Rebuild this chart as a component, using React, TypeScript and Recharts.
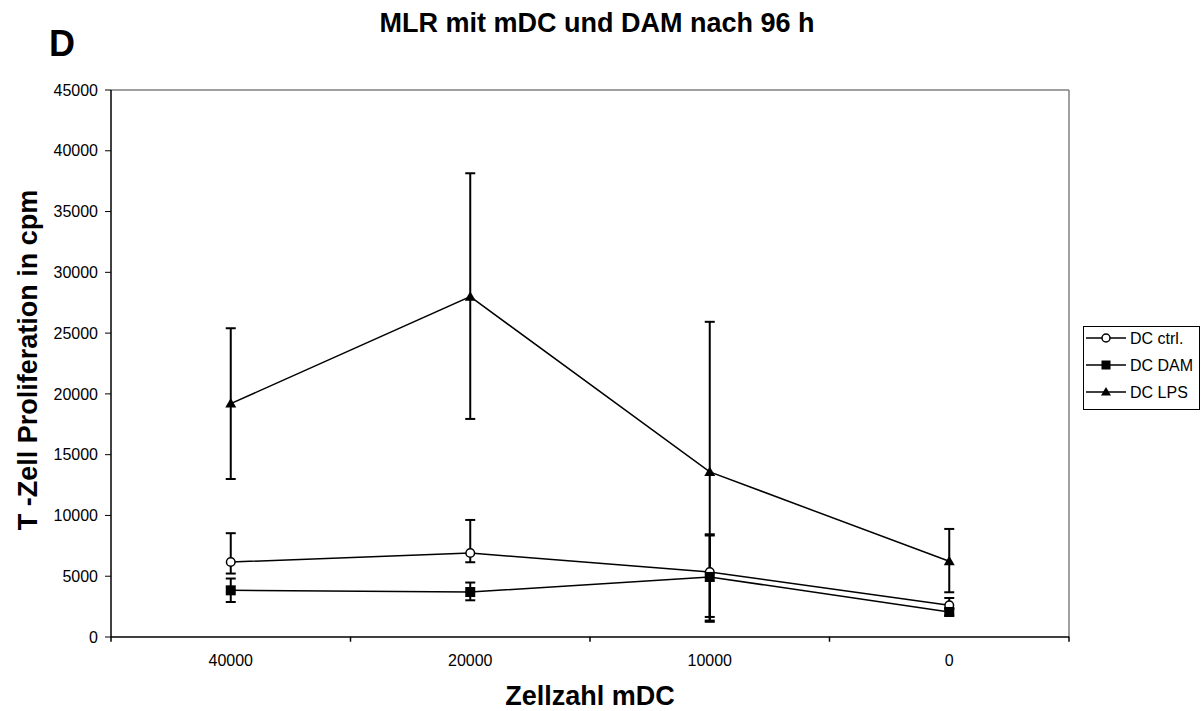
import React from 'react';
import { LineChart, Line, XAxis, YAxis, ErrorBar, ReferenceLine, Customized } from 'recharts';

const categories = ['40000', '20000', '10000', '0'];
const positions = [0.5, 1.5, 2.5, 3.5];

const ctrlMean = [6170, 6910, 5350, 2610];
const ctrlLow = [5220, 6150, 1650, 2300];
const ctrlHigh = [8540, 9630, 8450, 3210];

const damMean = [3840, 3700, 4940, 2060];
const damLow = [2880, 3020, 1350, 1760];
const damHigh = [4810, 4480, 8350, 2360];

const lpsMean = [19200, 28000, 13580, 6230];
const lpsLow = [13000, 17940, 1250, 3680];
const lpsHigh = [25400, 38150, 25930, 8890];

const yTicks = [0, 5000, 10000, 15000, 20000, 25000, 30000, 35000, 40000, 45000];
const xTicks = [0, 0.5, 1, 1.5, 2, 2.5, 3, 3.5, 4];

const seriesNames = ['DC ctrl.', 'DC DAM', 'DC LPS'];

const data = categories.map((c, i) => ({
  x: positions[i],
  cat: c,
  ctrl: ctrlMean[i],
  ctrlErr: [ctrlMean[i] - ctrlLow[i], ctrlHigh[i] - ctrlMean[i]],
  dam: damMean[i],
  damErr: [damMean[i] - damLow[i], damHigh[i] - damMean[i]],
  lps: lpsMean[i],
  lpsErr: [lpsMean[i] - lpsLow[i], lpsHigh[i] - lpsMean[i]],
}));

const FONT = '"Liberation Sans", Arial, sans-serif';

const CircleDot = (p: any) => (
  <circle key={`c${p.index}`} cx={p.cx} cy={p.cy} r={4.3} fill="#fff" stroke="#000" strokeWidth={1.5} />
);
const SquareDot = (p: any) => (
  <rect key={`s${p.index}`} x={p.cx - 5} y={p.cy - 5} width={10} height={10} fill="#000" />
);
const TriDot = (p: any) => (
  <path key={`t${p.index}`} d={`M${p.cx},${p.cy - 5.5} L${p.cx + 5.5},${p.cy + 4} L${p.cx - 5.5},${p.cy + 4} Z`} fill="#000" />
);

const XTick = (props: any) => {
  const { x, payload } = props;
  const axisY = 636.7;
  const v = payload.value;
  if (Math.abs(v - Math.round(v)) < 1e-6) {
    return <line x1={x} y1={axisY} x2={x} y2={axisY + 5} stroke="#000" strokeWidth={1.5} />;
  }
  const idx = positions.indexOf(v);
  return (
    <text x={x} y={axisY + 24} textAnchor="middle" dominantBaseline="central" fontSize={16} fontFamily={FONT} fill="#000">
      {idx >= 0 ? categories[idx] : ''}
    </text>
  );
};

const LegendBox = () => {
  const rows = [12, 39, 66];
  return (
    <svg width={117} height={84} style={{ display: 'block' }}>
      <rect x={0.5} y={0.5} width={116} height={83} fill="#fff" stroke="#000" strokeWidth={1} />
      {seriesNames.map((n, i) => {
        const cy = rows[i];
        return (
          <g key={n}>
            <line x1={3} y1={cy} x2={43} y2={cy} stroke="#000" strokeWidth={1.5} />
            {i === 0 && <circle cx={23} cy={cy} r={4} fill="#fff" stroke="#000" strokeWidth={1.5} />}
            {i === 1 && <rect x={18.5} y={cy - 4.5} width={9} height={9} fill="#000" />}
            {i === 2 && <path d={`M23,${cy - 5} L28,${cy + 3.5} L18,${cy + 3.5} Z`} fill="#000" />}
            <text x={47} y={cy} dominantBaseline="central" fontSize={16} fontFamily={FONT} fill="#000">{n}</text>
          </g>
        );
      })}
    </svg>
  );
};

const Texts = () => (
  <g fontFamily={FONT} fill="#000">
    <text x={49} y={56} fontSize={36} fontWeight="bold">D</text>
    <text x={597} y={32} fontSize={27} fontWeight="bold" textAnchor="middle">MLR mit mDC und DAM nach 96 h</text>
    <text x={590} y={705} fontSize={27} fontWeight="bold" textAnchor="middle">Zellzahl mDC</text>
    <text x={37} y={360} fontSize={27} fontWeight="bold" textAnchor="middle" transform="rotate(-90 37 360)">T -Zell Proliferation in cpm</text>
  </g>
);

export default function App() {
  return (
    <div style={{ position: 'absolute', left: 0, top: 0, width: 1202, height: 711, background: '#fff' }}>
      <LineChart width={1202} height={711} data={data} margin={{ top: 90, right: 133, bottom: 0, left: 0 }}>
        <XAxis
          dataKey="x"
          type="number"
          domain={[0, 4]}
          ticks={xTicks}
          interval={0}
          height={74}
          axisLine={{ stroke: '#000', strokeWidth: 1.5 }}
          tickLine={false}
          tick={<XTick />}
        />
        <YAxis
          type="number"
          domain={[0, 45000]}
          ticks={yTicks}
          interval={0}
          width={111}
          axisLine={{ stroke: '#000', strokeWidth: 1.5 }}
          tickLine={{ stroke: '#000', strokeWidth: 1 }}
          tickSize={6}
          tickMargin={7}
          tick={{ fill: '#000', fontSize: 16, fontFamily: FONT }}
        />
        <ReferenceLine y={45000} stroke="#808080" strokeWidth={1.5} />
        <ReferenceLine x={4} stroke="#808080" strokeWidth={1.5} />
        <Line dataKey="ctrl" name={seriesNames[0]} stroke="#000" strokeWidth={1.5} dot={CircleDot} isAnimationActive={false}>
          <ErrorBar dataKey="ctrlErr" width={5} stroke="#000" strokeWidth={2} direction="y" />
        </Line>
        <Line dataKey="dam" name={seriesNames[1]} stroke="#000" strokeWidth={1.5} dot={SquareDot} isAnimationActive={false}>
          <ErrorBar dataKey="damErr" width={5} stroke="#000" strokeWidth={2} direction="y" />
        </Line>
        <Line dataKey="lps" name={seriesNames[2]} stroke="#000" strokeWidth={1.5} dot={TriDot} isAnimationActive={false}>
          <ErrorBar dataKey="lpsErr" width={5} stroke="#000" strokeWidth={2} direction="y" />
        </Line>
        <Customized component={Texts} />
      </LineChart>
      <div style={{ position: 'absolute', left: 1083, top: 326 }}>
        <LegendBox />
      </div>
    </div>
  );
}
